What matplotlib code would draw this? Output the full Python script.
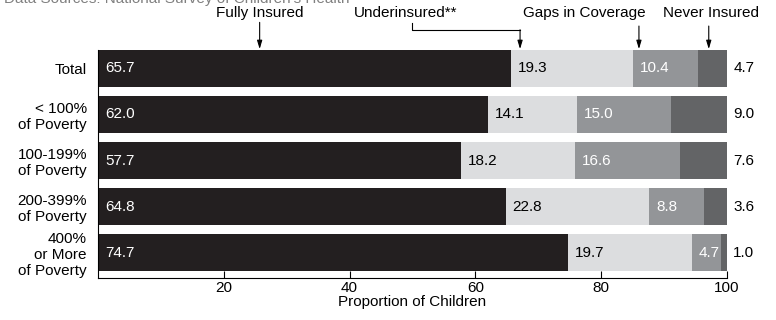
import matplotlib
matplotlib.use("Agg")
import matplotlib.pyplot as plt
import numpy as np

plt.rcParams['font.family'] = ['Liberation Sans', 'DejaVu Sans']

categories = ["Total", "< 100%\nof Poverty", "100-199%\nof Poverty",
              "200-399%\nof Poverty", "400%\nor More\nof Poverty"]
series_names = ["Fully Insured", "Underinsured**", "Gaps in Coverage", "Never Insured"]
fully = [65.7, 62.0, 57.7, 64.8, 74.7]
under = [19.3, 14.1, 18.2, 22.8, 19.7]
gaps = [10.4, 15.0, 16.6, 8.8, 4.7]
never = [4.7, 9.0, 7.6, 3.6, 1.0]
xticks = [20, 40, 60, 80, 100]

colors = ["#231f20", "#dcdddf", "#939598", "#636466"]
label_colors = ["white", "black", "white", None]
FS = 11

fig = plt.figure(figsize=(7.76, 3.2), dpi=100)
ax = fig.add_axes([98 / 776, 42 / 320, 629 / 776, 228 / 320])

y = np.arange(len(categories))
series = [fully, under, gaps, never]
left = np.zeros(len(categories))
for vals, col, lc in zip(series, colors, label_colors):
    vals = np.array(vals)
    ax.barh(y, vals, left=left, height=0.8, color=col, edgecolor="none")
    for yi, (l, v) in enumerate(zip(left, vals)):
        if lc is None:
            ax.text(101, yi, f"{v:.1f}", ha="left", va="center", fontsize=FS,
                    color="black", clip_on=False)
        else:
            ax.text(l + 1.1, yi, f"{v:.1f}", ha="left", va="center",
                    fontsize=FS, color=lc)
    left = left + vals

ax.set_xlim(0, 100)
ax.set_ylim(4.55, -0.4)
ax.set_yticks(y)
ax.set_yticklabels(categories, fontsize=FS, linespacing=1.15)
ax.tick_params(axis="y", length=0, pad=8)
ax.set_xticks(xticks)
ax.set_xticklabels([str(t) for t in xticks], fontsize=FS)
ax.tick_params(axis="x", direction="in", length=5, width=0.8, pad=2)
for lab in ax.get_yticklabels():
    lab.set_horizontalalignment("right")
    lab.set_multialignment("right")
ax.spines["top"].set_visible(False)
ax.spines["right"].set_visible(False)
ax.spines["left"].set_linewidth(0.8)
ax.spines["bottom"].set_linewidth(0.8)
ax.set_xlabel("Proportion of Children", fontsize=FS, labelpad=0)

# series callouts above the bars
arrow_kw = dict(arrowstyle="-|>,head_length=0.5,head_width=0.15", color="black",
                lw=0.8, shrinkA=0, shrinkB=0)
ax.annotate("", xy=(25.7, -0.42), xytext=(25.7, -1.0), xycoords="data",
            arrowprops=arrow_kw, annotation_clip=False)
ax.text(25.7, -1.05, series_names[0], ha="center", va="bottom", fontsize=FS)

ax.text(48.9, -1.05, series_names[1], ha="center", va="bottom", fontsize=FS)
ax.plot([49.9, 49.9, 67.1], [-0.98, -0.84, -0.84], color="black", lw=0.8,
        clip_on=False)
ax.annotate("", xy=(67.1, -0.42), xytext=(67.1, -0.84), xycoords="data",
            arrowprops=arrow_kw, annotation_clip=False)

ax.text(77.3, -1.05, series_names[2], ha="center", va="bottom", fontsize=FS)
ax.annotate("", xy=(86.0, -0.42), xytext=(86.0, -0.92), xycoords="data",
            arrowprops=arrow_kw, annotation_clip=False)

ax.text(97.5, -1.05, series_names[3], ha="center", va="bottom", fontsize=FS)
ax.annotate("", xy=(97.1, -0.42), xytext=(97.1, -0.92), xycoords="data",
            arrowprops=arrow_kw, annotation_clip=False)

fig.text(0.005, 1.025, "Data Sources: National Survey of Children's Health",
         ha="left", va="top", fontsize=FS, color="#808080")

fig.savefig("out.png", dpi=100)
